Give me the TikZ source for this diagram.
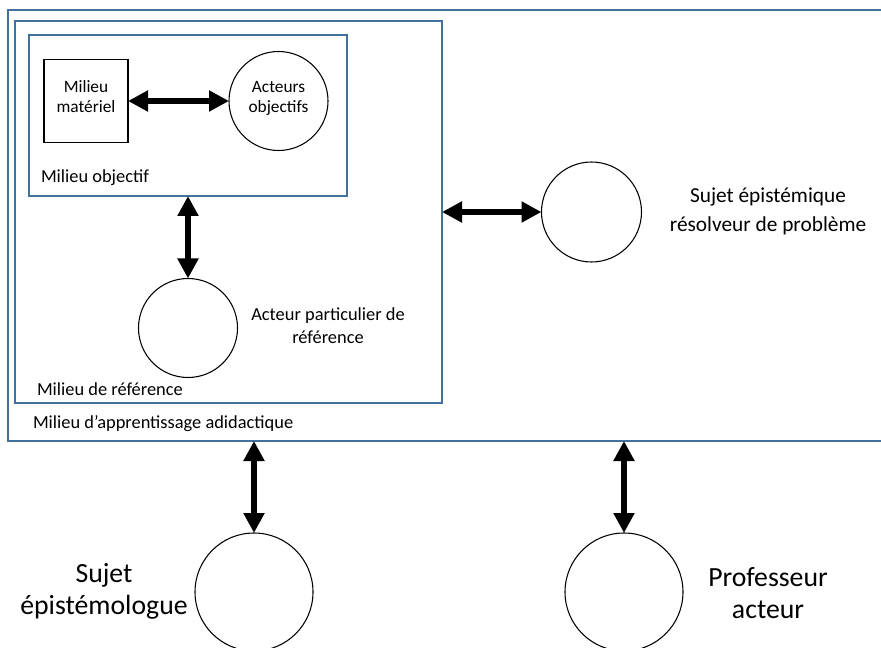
\documentclass[tikz,border=0pt]{standalone}
\usepackage{fontspec}
\setmainfont{Carlito}
\usetikzlibrary{arrows.meta}
\definecolor{boxblue}{RGB}{65,113,156}
\begin{document}
\begin{tikzpicture}[x=0.75pt,y=-0.75pt,
  bx/.style={draw=boxblue, line width=1pt, inner sep=0pt, outer sep=0pt, anchor=north west},
  circ/.style={draw=black, line width=0.8pt, circle, inner sep=0pt, outer sep=0pt},
  dbl/.style={line width=4.5pt, {Triangle[length=15pt,width=15pt]}-{Triangle[length=15pt,width=15pt]}},
  lbl/.style={font=\fontsize{13.8}{17}\selectfont, inner sep=0pt, outer sep=0pt},
  intxt/.style={font=\fontsize{13}{15}\selectfont, align=center, inner sep=0pt},
  midtxt/.style={font=\fontsize{13.8}{17.25}\selectfont, align=center, inner sep=0pt},
  bigtxt/.style={font=\fontsize{16}{21.75}\selectfont, align=center, inner sep=0pt},
  hugetxt/.style={font=\fontsize{20.8}{24}\selectfont, align=center, inner sep=0pt}
]
\clip (0,0) rectangle (881,648);
% boxes
\node[bx, minimum width=661.5pt, minimum height=323.25pt] (outer) at (8,10) {};
\node[bx, minimum width=320.25pt, minimum height=286.5pt] (mid) at (15,21) {};
\node[bx, minimum width=238.5pt, minimum height=120.75pt] (inner) at (29,35) {};
% inner elements
\node[draw=black, line width=0.8pt, minimum width=63pt, minimum height=62.25pt, inner sep=0pt, outer sep=0pt] (sq) at (86,101) {};
\node[intxt] (sqt) at (86,97) {Milieu\\matériel};
\node[circ, minimum size=74.25pt] (ao) at (278.5,101) {};
\node[intxt] (aot) at (278.5,98) {Acteurs\\objectifs};
\node[circ, minimum size=74.25pt] (ap) at (188,328) {};
\node[circ, minimum size=75pt] (se) at (591.5,212) {};
\node[circ, minimum size=88.5pt] (b1) at (254,592) {};
\node[circ, minimum size=88.5pt] (b2) at (624,592) {};
% labels
\node[lbl, anchor=base west] (lobj) at (41,183) {Milieu objectif};
\node[lbl, anchor=base west] (lref) at (37,395) {Milieu de référence};
\node[lbl, anchor=base west] (lapp) at (33,428) {Milieu d’apprentissage adidactique};
\node[midtxt] (tap) at (328,326) {Acteur particulier de\\référence};
\node[bigtxt] (tse) at (768,211) {Sujet épistémique\\résolveur de problème};
\node[hugetxt] (tb1) at (104,591) {Sujet\\épistémologue};
\node[hugetxt] (tb2) at (768,593) {Professeur\\acteur};
% arrows
\draw[dbl] (sq.east) -- (ao.west);
\draw[dbl] (ap.north |- inner.south) -- (ap.north);
\draw[dbl] (mid.east |- se.west) -- (se.west);
\draw[dbl] (outer.south -| b1.north) -- (b1.north);
\draw[dbl] (outer.south -| b2.north) -- (b2.north);
\end{tikzpicture}
\end{document}
